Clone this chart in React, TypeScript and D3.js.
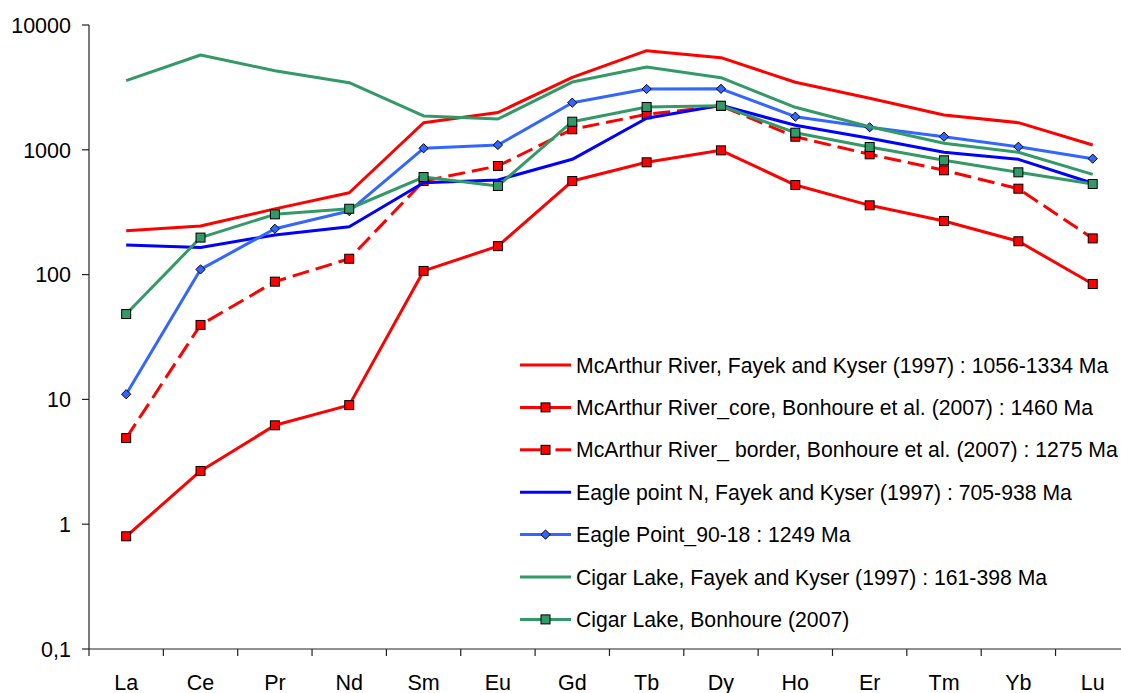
import React from "react";
import * as d3 from "d3";

const categories = ["La", "Ce", "Pr", "Nd", "Sm", "Eu", "Gd", "Tb", "Dy", "Ho", "Er", "Tm", "Yb", "Lu"];

const mcArthurFayek = [225, 245, 336, 453, 1648, 1990, 3810, 6225, 5470, 3475, 2586, 1900, 1650, 1093];
const mcArthurCore = [0.8, 2.67, 6.2, 9.0, 107, 169, 562, 794, 990, 522, 359, 269, 185, 84];
const mcArthurBorder = [4.9, 39.5, 87.8, 134, 562, 742, 1460, 1925, 2244, 1273, 920, 685, 488, 195];
const eagleN = [173, 165, 208, 242, 545, 573, 839, 1788, 2272, 1572, 1237, 955, 839, 539];
const eagle9018 = [11.0, 110, 233, 323, 1028, 1093, 2385, 3070, 3080, 1842, 1515, 1273, 1058, 849];
const cigarFayek = [3580, 5750, 4300, 3450, 1866, 1765, 3490, 4610, 3780, 2190, 1532, 1128, 955, 636];
const cigarBonhoure = [48.3, 198, 304, 337, 605, 513, 1680, 2203, 2256, 1371, 1053, 824, 660, 532];

const yTicks = [0.1, 1, 10, 100, 1000, 10000];
const yTickLabels = ["0,1", "1", "10", "100", "1000", "10000"];

type Series = {
  name: string;
  values: number[];
  color: string;
  dash?: string;
  marker?: "square" | "diamond";
};

const series: Series[] = [
  { name: "McArthur River, Fayek and Kyser (1997) : 1056-1334 Ma", values: mcArthurFayek, color: "#FF0000" },
  { name: "McArthur River_core, Bonhoure et al. (2007) : 1460 Ma", values: mcArthurCore, color: "#FF0000", marker: "square" },
  { name: "McArthur River_ border, Bonhoure et al. (2007) : 1275 Ma", values: mcArthurBorder, color: "#FF0000", dash: "17 7", marker: "square" },
  { name: "Eagle point N, Fayek and Kyser (1997) : 705-938 Ma", values: eagleN, color: "#0000FF" },
  { name: "Eagle Point_90-18 : 1249 Ma", values: eagle9018, color: "#3366FF", marker: "diamond" },
  { name: "Cigar Lake, Fayek and Kyser (1997) : 161-398 Ma", values: cigarFayek, color: "#339966" },
  { name: "Cigar Lake, Bonhoure (2007)", values: cigarBonhoure, color: "#339966", marker: "square" },
];

const W = 1121;
const H = 693;
const left = 89;
const top = 25;
const bottom = 649;
const step = 74.35;
const right = left + step * categories.length;
const FONT = "'Liberation Sans', Arial, sans-serif";

function Marker({ type, x, y, color }: { type?: string; x: number; y: number; color: string }) {
  if (type === "square") {
    return <rect x={x - 4.5} y={y - 4.5} width={9} height={9} fill={color} stroke="#000" strokeWidth={1} />;
  }
  if (type === "diamond") {
    const r = 4.6;
    return (
      <path
        d={`M${x},${y - r}L${x + r},${y}L${x},${y + r}L${x - r},${y}Z`}
        fill={color}
        stroke="#000"
        strokeWidth={1}
      />
    );
  }
  return null;
}

export default function App() {
  const x = d3.scaleBand<string>().domain(categories).range([left, right]).padding(0);
  const y = d3.scaleLog().domain([0.1, 10000]).range([bottom, top]);
  const cx = (c: string) => (x(c) as number) + x.bandwidth() / 2;

  const line = d3
    .line<number>()
    .x((_, i) => cx(categories[i]))
    .y((v) => y(v));

  const legendX1 = 520;
  const legendX2 = 571;
  const legendY0 = 365;
  const legendStep = 42.4;

  return (
    <svg
      width={W}
      height={H}
      style={{ position: "absolute", left: 0, top: 0, background: "#fff" }}
      fontFamily={FONT}
    >
      {/* axes */}
      <line x1={left} y1={top} x2={left} y2={bottom} stroke="#222" strokeWidth={1.2} />
      <line x1={left} y1={bottom} x2={right} y2={bottom} stroke="#222" strokeWidth={1.2} />
      {yTicks.map((t, i) => (
        <g key={t}>
          <line x1={left - 7} x2={left} y1={y(t)} y2={y(t)} stroke="#222" strokeWidth={1.2} />
          <text x={71} y={y(t)} dy="0.36em" textAnchor="end" fontSize={21.5} fill="#000">
            {yTickLabels[i]}
          </text>
        </g>
      ))}
      {categories.map((c) => (
        <line
          key={"t" + c}
          x1={x(c) as number}
          x2={x(c) as number}
          y1={bottom}
          y2={bottom + 7}
          stroke="#222"
          strokeWidth={1.2}
        />
      ))}
      <line x1={right} x2={right} y1={bottom} y2={bottom + 7} stroke="#222" strokeWidth={1.2} />
      {categories.map((c) => (
        <text key={"l" + c} x={cx(c)} y={689.5} textAnchor="middle" fontSize={21.5} fill="#000">
          {c}
        </text>
      ))}

      {/* series */}
      {series.map((s) => (
        <g key={s.name}>
          <path
            d={line(s.values) || ""}
            fill="none"
            stroke={s.color}
            strokeWidth={3}
            strokeDasharray={s.dash}
            strokeLinejoin="round"
          />
          {s.marker &&
            s.values.map((v, i) => (
              <Marker key={i} type={s.marker} x={cx(categories[i])} y={y(v)} color={s.color} />
            ))}
        </g>
      ))}

      {/* legend */}
      {series.map((s, i) => {
        const ly = legendY0 + i * legendStep;
        const mx = (legendX1 + legendX2) / 2;
        return (
          <g key={"lg" + i}>
            {s.dash ? (
              <>
                <line x1={legendX1} x2={mx - 5} y1={ly} y2={ly} stroke={s.color} strokeWidth={3} />
                <line x1={mx + 10} x2={legendX2} y1={ly} y2={ly} stroke={s.color} strokeWidth={3} />
              </>
            ) : (
              <line x1={legendX1} x2={legendX2} y1={ly} y2={ly} stroke={s.color} strokeWidth={3} />
            )}
            <Marker type={s.marker} x={mx} y={ly} color={s.color} />
            <text x={576} y={ly} dy="0.36em" fontSize={21.2} fill="#000">
              {s.name}
            </text>
          </g>
        );
      })}
    </svg>
  );
}
